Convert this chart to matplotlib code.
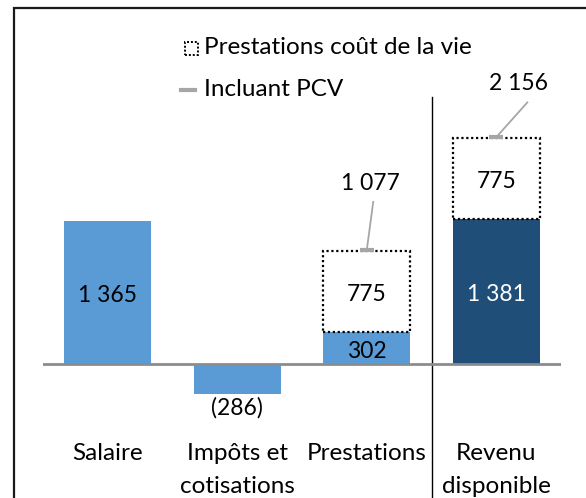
import matplotlib
matplotlib.use("Agg")
import matplotlib.pyplot as plt
from matplotlib.patches import Rectangle
from matplotlib.lines import Line2D

plt.rcParams['font.family'] = ['Lato', 'DejaVu Sans']

categories = ["Salaire", "Impôts et\ncotisations", "Prestations", "Revenu\ndisponible"]
base_values = [1365, -286, 302, 1381]
pcv_values = [0, 0, 775, 775]
bar_colors = ["#5B9BD5", "#5B9BD5", "#5B9BD5", "#1F4E79"]
label_colors = ["black", "black", "black", "white"]


def fmt(v):
    s = f"{abs(v):,}".replace(",", " ")
    return f"({s})" if v < 0 else s


W, H = 586, 498
fig = plt.figure(figsize=(W / 100, H / 100), dpi=100)
# axes spans the full height; x from 43px to 561px
ax = fig.add_axes([43 / W, 0, 518 / W, 1])
ppu = 0.1048  # pixels per unit
zero_px = 364
ax.set_ylim(-(H - zero_px) / ppu, zero_px / ppu)
ax.set_xlim(-0.5, 3.5)
ax.axis("off")

x = range(len(categories))
ax.bar(x, base_values, width=0.67, color=bar_colors, zorder=2)
ax.bar(x, pcv_values, width=0.67, bottom=base_values, color="white",
       edgecolor=["none", "none", "black", "black"], linestyle=(0, (1, 1.2)),
       linewidth=1.6, zorder=3)
ax.axhline(0, color="#8C8C8C", linewidth=2, zorder=4)

fs = 17.5
fv = 16.5
nudge = 3 / ppu  # labels sit a few px below the exact middle
for i, (b, p) in enumerate(zip(base_values, pcv_values)):
    if b < 0:
        ax.text(i, b - 130, fmt(b), ha="center", va="center", fontsize=fv)
    else:
        ax.text(i, b / 2 - nudge, fmt(b), ha="center", va="center", fontsize=fv,
                color=label_colors[i], zorder=5)
    if p:
        ax.text(i, b + p / 2 - nudge, fmt(p), ha="center", va="center", fontsize=fv,
                zorder=5)
        total = b + p
        # leader line + label
        lx, ly = [(0.03, 650), (0.17, 520)][i - 2]
        ax.text(i + lx, total + ly, fmt(total), ha="center", va="center", fontsize=fv)
        tx = [0.02, 0.07][i - 2]
        ax.plot([i + lx + tx, i], [total + ly - 180, total + 8], color="#A6A6A6",
                linewidth=1.3, zorder=5)
        ax.plot([i], [total + 8], marker="_", markersize=10, mew=3, color="#A6A6A6",
                zorder=6)

# separator
ax.plot([2.5, 2.5], [(zero_px - 97) / ppu, -(H - zero_px) / ppu], color="black",
        linewidth=1, zorder=1)

# category labels, one text per line
for i, c in enumerate(categories):
    for k, line in enumerate(c.split("\n")):
        ax.text(i, (zero_px - 453 - 33 * k) / ppu, line, ha="center", va="center",
                fontsize=fs)

# legend drawn by hand (figure pixels)
def fx(px):
    return px / W


def fy(py):
    return 1 - py / H


fig.patches.append(Rectangle((fx(185), fy(55)), 13 / W, 13 / H, transform=fig.transFigure,
                             facecolor="white", edgecolor="black",
                             linestyle=(0, (1, 1)), linewidth=1.4))
fig.text(fx(204), fy(48), "Prestations coût de la vie", fontsize=fs, va="center")
fig.lines.append(Line2D([fx(181), fx(195)], [fy(90), fy(90)], transform=fig.transFigure,
                        color="#A6A6A6", linewidth=3))
fig.text(fx(204), fy(89), "Incluant PCV", fontsize=fs, va="center")

# outer frame
fig.patches.append(Rectangle((fx(14), fy(520)), 600 / W, 512 / H, transform=fig.transFigure,
                             facecolor="none", edgecolor="#1A1A1A", linewidth=1.6))

fig.savefig("out.png", dpi=100)
